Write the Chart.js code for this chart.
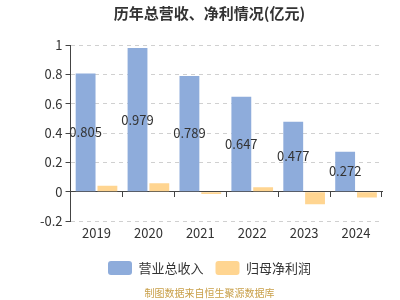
<!DOCTYPE html>
<html>
<head>
<meta charset="utf-8">
<script src="https://cdn.jsdelivr.net/npm/chart.js@4/dist/chart.umd.min.js"></script>
<style>
    html, body { margin: 0; padding: 0; background: #fff; }
    #box { width: 400px; height: 300px; }
</style>
</head>
<body>
<div id="box"><canvas id="chart"></canvas></div>
<script>
const years = ['2019', '2020', '2021', '2022', '2023', '2024']
const revenue = [0.805, 0.979, 0.789, 0.647, 0.477, 0.272]
const netProfit = [0.04, 0.057, -0.016, 0.03, -0.085, -0.04]
const yTicks = [-0.2, 0, 0.2, 0.4, 0.6, 0.8, 1]

const fontFamily = '"Noto Sans CJK SC", "Noto Sans", sans-serif'

// value labels in the middle of the revenue bars
const barLabels = {
    id: 'barLabels',
    afterDatasetsDraw(chart) {
        const ctx = chart.ctx
        const meta = chart.getDatasetMeta(0)
        ctx.save()
        ctx.font = '13px ' + fontFamily
        ctx.fillStyle = '#333'
        ctx.textAlign = 'center'
        ctx.textBaseline = 'middle'
        meta.data.forEach((bar, i) => {
            ctx.fillText(String(revenue[i]), bar.x, (bar.y + bar.base) / 2)
        })
        ctx.restore()
    },
}

new Chart('chart', {
    type: 'bar',
    data: {
        labels: years,
        datasets: [
            {
                label: '营业总收入',
                data: revenue,
                backgroundColor: '#8eacdb',
                barPercentage: 0.91,
                categoryPercentage: 0.84,
            },
            {
                label: '归母净利润',
                data: netProfit,
                backgroundColor: '#ffd591',
                barPercentage: 0.91,
                categoryPercentage: 0.84,
            },
        ],
    },
    options: {
        responsive: true,
        maintainAspectRatio: false,
        animation: false,
        layout: {
            padding: { left: 37, right: 18, top: 0, bottom: 0 },
        },
        plugins: {
            title: {
                display: true,
                text: '历年总营收、净利情况(亿元)',
                color: '#333',
                font: { family: fontFamily, size: 15, weight: 'bold' },
                padding: { top: 4, bottom: 23 },
            },
            subtitle: {
                display: true,
                position: 'bottom',
                text: '制图数据来自恒生聚源数据库',
                color: '#c9a04a',
                font: { family: fontFamily, size: 10 },
                padding: { top: 2, bottom: 1 },
            },
            legend: {
                position: 'bottom',
                labels: {
                    boxWidth: 24,
                    boxHeight: 14,
                    useBorderRadius: true,
                    borderRadius: 3,
                    color: '#333',
                    padding: 12,
                    font: { family: fontFamily, size: 13 },
                },
            },
            tooltip: { enabled: false },
        },
        scales: {
            x: {
                grid: { display: false, drawTicks: false },
                border: { display: false },
                ticks: {
                    color: '#333',
                    padding: 4,
                    font: { family: fontFamily, size: 13 },
                },
                // empty title, only used as a small spacer under the labels
                title: {
                    display: true,
                    text: '',
                    font: { size: 2 },
                    padding: { top: 0, bottom: 2 },
                },
            },
            xZero: {
                type: 'category',
                labels: years,
                offset: true,
                position: { y: 0 },
                grid: {
                    offset: true,
                    drawOnChartArea: false,
                    tickLength: 5,
                    color: '#444',
                    tickColor: '#444',
                },
                border: { display: true, color: '#444', width: 1 },
                ticks: { display: false },
            },
            y: {
                min: -0.2,
                max: 1,
                afterBuildTicks: (axis) => {
                    axis.ticks = yTicks.map((v) => ({ value: v }))
                },
                grid: {
                    color: '#d0d0d0',
                    tickColor: '#444',
                    tickLength: 5,
                    tickBorderDash: [],
                },
                border: {
                    color: '#444',
                    display: true,
                    // dashed grid lines, solid axis line
                    dash: (ctx) => (ctx.type === 'tick' ? [4, 4] : []),
                },
                ticks: {
                    color: '#333',
                    padding: 3,
                    font: { family: fontFamily, size: 13 },
                    callback: (v) => String(Math.round(v * 10) / 10),
                },
            },
        },
    },
    plugins: [barLabels],
})
</script>
</body>
</html>
